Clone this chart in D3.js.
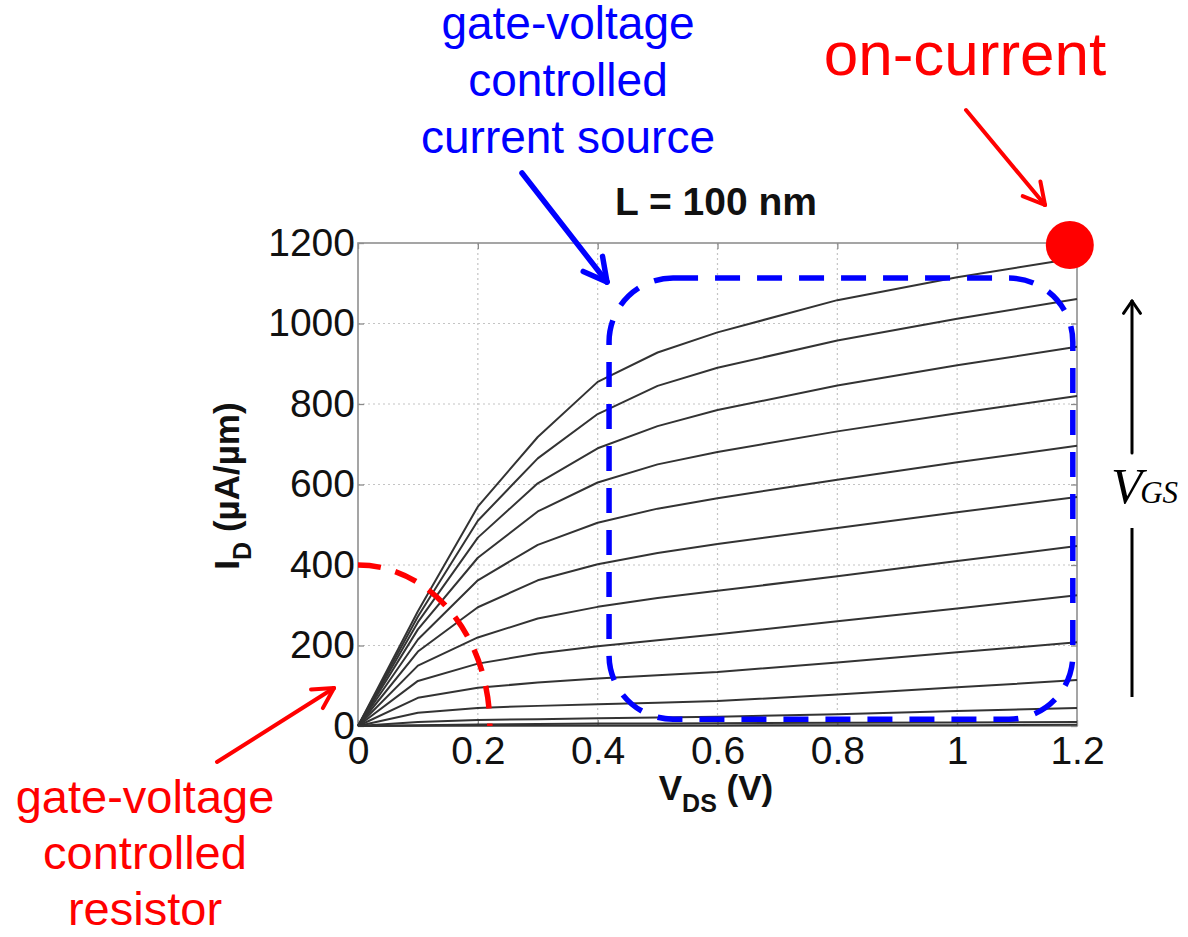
<!DOCTYPE html>
<html>
<head>
<meta charset="utf-8">
<script src="https://cdn.jsdelivr.net/npm/d3@7"></script>
<style>
  body { margin: 0; background: #fff; }
  svg { display: block; }
</style>
</head>
<body>
<svg id="chart" width="1188" height="937"></svg>
<script>
/* ---- data ---- */
var vds_Values = [0, 0.1, 0.2, 0.3, 0.4, 0.5, 0.6, 0.8, 1.0, 1.2];

/* one array per gate voltage, highest V_GS first (uA/um) */
var id_Curves = [
	[0, 285, 545, 718, 855, 928, 978, 1058, 1115, 1163],
	[0, 272, 510, 665, 775, 845, 890, 958, 1012, 1061],
	[0, 258, 468, 603, 690, 745, 785, 846, 896, 942],
	[0, 240, 418, 533, 605, 650, 681, 732, 777, 820],
	[0, 215, 362, 450, 505, 540, 566, 612, 655, 696],
	[0, 185, 295, 362, 402, 430, 452, 492, 531, 569],
	[0, 150, 220, 267, 296, 318, 336, 372, 410, 447],
	[0, 112, 155, 180, 198, 213, 228, 260, 292, 325],
	[0, 70, 95, 108, 118, 126, 134, 158, 183, 208],
	[0, 33, 45, 50, 54, 58, 62, 78, 96, 114],
	[0, 10, 15, 17, 19, 21, 23, 29, 37, 45],
	[0, 2, 4, 5, 6, 6, 7, 8, 9, 10],
	[0, 0.5, 1, 1, 1, 1.5, 1.5, 2, 2, 3]
];

var x_Ticks = [0, 0.2, 0.4, 0.6, 0.8, 1, 1.2];
var y_Ticks = [0, 200, 400, 600, 800, 1000, 1200];

var title_Text = "L = 100 nm";
var source_Label = ["gate-voltage", "controlled", "current source"];
var resistor_Label = ["gate-voltage", "controlled", "resistor"];
var on_Label = "on-current";

/* ---- layout ---- */
var plot = { left: 358, right: 1077, top: 243, bottom: 726 };
var svg = d3.select("#chart");

var x = d3.scaleLinear().domain([0, 1.2]).range([plot.left, plot.right]);
var y = d3.scaleLinear().domain([0, 1200]).range([plot.bottom, plot.top]);

/* grid */
svg.append("g").selectAll("line.vg")
	.data(x_Ticks.slice(1, -1)).enter().append("line")
	.attr("x1", function(d){ return x(d); }).attr("x2", function(d){ return x(d); })
	.attr("y1", plot.top).attr("y2", plot.bottom)
	.attr("stroke", "#c4c4c4").attr("stroke-width", 1.2).attr("stroke-dasharray", "2,3");

svg.append("g").selectAll("line.hg")
	.data(y_Ticks.slice(1, -1)).enter().append("line")
	.attr("y1", function(d){ return y(d); }).attr("y2", function(d){ return y(d); })
	.attr("x1", plot.left).attr("x2", plot.right)
	.attr("stroke", "#c4c4c4").attr("stroke-width", 1.2).attr("stroke-dasharray", "2,3");

/* axes, MATLAB style: inward ticks, box */
var tick_Font = "'Liberation Sans', Arial, sans-serif";

svg.append("g").attr("transform", "translate(" + plot.left + ",0)")
	.call(d3.axisLeft(y).tickValues(y_Ticks).tickSize(-6).tickPadding(3).tickFormat(d3.format("d")));
svg.append("g").attr("transform", "translate(0," + plot.bottom + ")")
	.call(d3.axisBottom(x).tickValues(x_Ticks).tickSize(-6).tickPadding(10).tickFormat(function(d){ return String(d); }));

svg.append("g").attr("transform", "translate(0," + plot.top + ")")
	.call(d3.axisTop(x).tickValues(x_Ticks).tickSize(-6).tickFormat(""));
svg.append("g").attr("transform", "translate(" + plot.right + ",0)")
	.call(d3.axisRight(y).tickValues(y_Ticks).tickSize(-6).tickFormat(""));

svg.selectAll(".domain").remove();
svg.selectAll(".tick line").attr("stroke", "#8a8a8a").attr("stroke-width", 1.3);
svg.selectAll(".tick text").attr("font-family", tick_Font).attr("font-size", 39).attr("fill", "#111");

svg.append("rect")
	.attr("x", plot.left).attr("y", plot.top)
	.attr("width", plot.right - plot.left).attr("height", plot.bottom - plot.top)
	.attr("fill", "none").attr("stroke", "#8f8f8f").attr("stroke-width", 1.6);

/* curves */
var line = d3.line()
	.x(function(d, i){ return x(vds_Values[i]); })
	.y(function(d){ return y(d); });

svg.append("g").selectAll("path.curve")
	.data(id_Curves).enter().append("path")
	.attr("d", line)
	.attr("fill", "none")
	.attr("stroke", "#333")
	.attr("stroke-width", 2)
	.attr("stroke-linejoin", "round");

/* axis labels and title */
svg.append("text")
	.attr("x", 716).attr("y", 215)
	.attr("text-anchor", "middle")
	.attr("font-family", tick_Font).attr("font-weight", "bold").attr("font-size", 39)
	.attr("fill", "#111")
	.text(title_Text);

var x_Label = svg.append("text")
	.attr("x", 716).attr("y", 800)
	.attr("text-anchor", "middle")
	.attr("font-family", tick_Font).attr("font-weight", "bold").attr("font-size", 35)
	.attr("fill", "#111");
x_Label.append("tspan").text("V");
x_Label.append("tspan").attr("font-size", 25).attr("dy", 12).text("DS");
x_Label.append("tspan").attr("dy", -12).text(" (V)");

var y_Label = svg.append("text")
	.attr("transform", "translate(239,486) rotate(-90)")
	.attr("text-anchor", "middle")
	.attr("font-family", tick_Font).attr("font-weight", "bold").attr("font-size", 35)
	.attr("fill", "#111");
y_Label.append("tspan").text("I");
y_Label.append("tspan").attr("font-size", 25).attr("dy", 12).text("D");
y_Label.append("tspan").attr("dy", -12).text(" (\u00b5A/\u00b5m)");

/* ---- annotations ---- */

/* blue dashed box: current-source region (data units) */
var box_Region = { v0: 0.419, v1: 1.193, i0: 17, i1: 1113, radius: 64 };
svg.append("rect")
	.attr("x", x(box_Region.v0)).attr("y", y(box_Region.i1))
	.attr("width", x(box_Region.v1) - x(box_Region.v0))
	.attr("height", y(box_Region.i0) - y(box_Region.i1))
	.attr("rx", box_Region.radius).attr("ry", box_Region.radius)
	.attr("fill", "none").attr("stroke", "#0000ff")
	.attr("stroke-width", 5.5).attr("stroke-dasharray", "25,17");

/* red dashed quarter ellipse: resistor region */
var arc_Region = { v: 0.22, i: 400 };
var rx = x(arc_Region.v) - x(0), ry = y(0) - y(arc_Region.i);
svg.append("path")
	.attr("d", "M" + x(0) + "," + y(arc_Region.i) + " A" + rx + "," + ry + " 0 0 1 " + x(arc_Region.v) + "," + y(0))
	.attr("fill", "none").attr("stroke", "#ff0000")
	.attr("stroke-width", 5.5).attr("stroke-dasharray", "23,15");

/* on-current dot */
svg.append("circle")
	.attr("cx", x(1.188)).attr("cy", y(1195)).attr("r", 24)
	.attr("fill", "#ff0000");

/* arrows */
function draw_Arrow(x1, y1, x2, y2, colour, width, arm, spread){
	var g = svg.append("g").attr("stroke", colour).attr("stroke-width", width)
		.attr("stroke-linecap", "round").attr("fill", "none");
	g.append("line").attr("x1", x1).attr("y1", y1).attr("x2", x2).attr("y2", y2);
	var back = Math.atan2(y1 - y2, x1 - x2);
	[-spread, spread].forEach(function(s){
		g.append("line")
			.attr("x1", x2).attr("y1", y2)
			.attr("x2", x2 + arm * Math.cos(back + s))
			.attr("y2", y2 + arm * Math.sin(back + s));
	});
}

draw_Arrow(522, 173, 607, 282, "#0000ff", 5.5, 26, 0.49);
draw_Arrow(966, 110, 1045, 205, "#ff0000", 4, 24, 0.5);
draw_Arrow(217, 762, 334, 688, "#ff0000", 4, 23, 0.5);

/* V_GS arrow, broken around its label */
svg.append("line").attr("x1", 1132).attr("y1", 697).attr("x2", 1132).attr("y2", 528)
	.attr("stroke", "#000").attr("stroke-width", 3);
draw_Arrow(1132, 453, 1132, 301, "#000", 3, 15, 0.6);

var vgs_Label = svg.append("text")
	.attr("x", 1111).attr("y", 503)
	.attr("font-family", "'Liberation Serif', 'Times New Roman', serif")
	.attr("font-style", "italic").attr("font-size", 51).attr("fill", "#000");
vgs_Label.append("tspan").text("V");
vgs_Label.append("tspan").attr("font-size", 31).attr("dx", -2).text("GS");

/* annotation text */
svg.append("g").selectAll("text")
	.data(source_Label).enter().append("text")
	.attr("x", 568).attr("y", function(d, i){ return 39 + i * 57; })
	.attr("text-anchor", "middle")
	.attr("font-family", tick_Font).attr("font-size", 46).attr("fill", "#0000ff")
	.text(function(d){ return d; });

svg.append("g").selectAll("text")
	.data(resistor_Label).enter().append("text")
	.attr("x", 145).attr("y", function(d, i){ return 813 + i * 56; })
	.attr("text-anchor", "middle")
	.attr("font-family", tick_Font).attr("font-size", 47).attr("fill", "#ff0000")
	.text(function(d){ return d; });

svg.append("text")
	.attr("x", 965).attr("y", 75)
	.attr("text-anchor", "middle")
	.attr("font-family", tick_Font).attr("font-size", 62).attr("fill", "#ff0000")
	.text(on_Label);
</script>
</body>
</html>
